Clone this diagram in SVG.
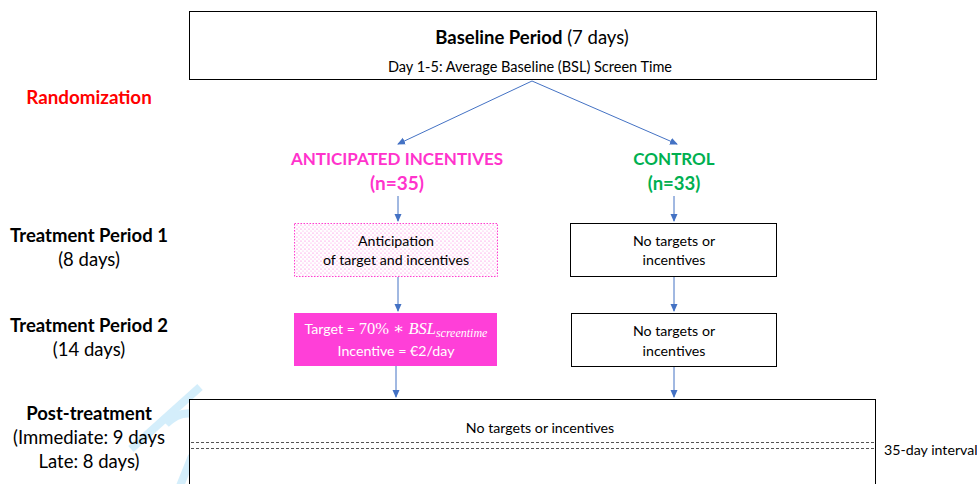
<svg xmlns="http://www.w3.org/2000/svg" width="977" height="484" viewBox="0 0 977 484">
<defs>
<style>
text{font-family:Lato,"Open Sans","Liberation Sans",sans-serif;fill:#000}
.b{font-weight:bold}
.box{fill:#fff;stroke:#000;stroke-width:1}
.conn{stroke:#4472C4;stroke-width:1;fill:none;marker-end:url(#ah)}
.mg{fill:#FF33CC}
.gr{fill:#00B050}
.math{font-family:"Liberation Serif","DejaVu Serif",serif;fill:#fff}
.side{font-size:18.5px}
.inner{font-size:14.2px}
</style>
<marker id="ah" markerWidth="8" markerHeight="8" refX="7" refY="4" orient="auto" markerUnits="userSpaceOnUse">
<path d="M0,0.5 L8,4 L0,7.5 Z" fill="#4472C4"/>
</marker>
<pattern id="dots" width="4" height="4" patternUnits="userSpaceOnUse">
<rect width="4" height="4" fill="#fff"/>
<circle cx="1" cy="1" r="0.6" fill="#FF66DD"/>
<circle cx="3" cy="3" r="0.6" fill="#FF99E6"/>
</pattern>
</defs>
<rect width="977" height="484" fill="#fff"/>

<g id="watermark" fill="none" stroke="#D4EEFB" stroke-width="8" stroke-linecap="butt">
<path d="M200,387 L131,449"/>
<path d="M166,424 Q182,408 200,416"/>
<path d="M180,486 L192,456"/>
</g>

<g id="labels">
<text x="89" y="104" text-anchor="middle" class="b" font-size="18.8" style="fill:#FF0000">Randomization</text>
<text x="89" y="242" text-anchor="middle" class="b side">Treatment Period 1</text>
<text x="89" y="266" text-anchor="middle" class="side">(8 days)</text>
<text x="89" y="332" text-anchor="middle" class="b side">Treatment Period 2</text>
<text x="89" y="356" text-anchor="middle" class="side">(14 days)</text>
<text x="89" y="420" text-anchor="middle" class="b side">Post-treatment</text>
<text x="89" y="444" text-anchor="middle" class="side">(Immediate: 9 days</text>
<text x="89" y="468" text-anchor="middle" class="side">Late: 8 days)</text>
</g>

<g id="baseline">
<rect class="box" x="189.5" y="11.5" width="687" height="68"/>
<text x="532" y="44" text-anchor="middle" font-size="18.5"><tspan class="b">Baseline Period</tspan> (7 days)</text>
<text x="530" y="72" text-anchor="middle" font-size="14.5">Day 1-5: Average Baseline (BSL) Screen Time</text>
</g>

<g id="anticipated-header">
<text x="397" y="165" text-anchor="middle" class="b mg" font-size="17">ANTICIPATED INCENTIVES</text>
<text x="397" y="190" text-anchor="middle" class="b mg" font-size="19">(n=35)</text>
</g>

<g id="control-header">
<text x="674" y="165" text-anchor="middle" class="b gr" font-size="17">CONTROL</text>
<text x="674" y="190" text-anchor="middle" class="b gr" font-size="18.5">(n=33)</text>
</g>

<g id="anticipation">
<rect x="294.5" y="223.5" width="203" height="53" fill="url(#dots)" stroke="#FF40D0" stroke-width="1" stroke-dasharray="1.5,1.5"/>
<text x="396" y="246" text-anchor="middle" class="inner">Anticipation</text>
<text x="396" y="265" text-anchor="middle" class="inner">of target and incentives</text>
</g>

<g id="control1">
<rect class="box" x="570.5" y="223.5" width="206" height="53"/>
<text x="674" y="246" text-anchor="middle" class="inner">No targets or</text>
<text x="674" y="265" text-anchor="middle" class="inner">incentives</text>
</g>

<g id="target">
<rect x="294" y="313" width="203" height="53" fill="#FF3FD8"/>
<text x="396" y="334" text-anchor="middle" class="inner" style="fill:#fff">Target = <tspan class="math" font-size="16.5">70% ∗ </tspan><tspan class="math" font-style="italic" font-size="16.5">BSL</tspan><tspan class="math" font-style="italic" font-size="12" dy="3">screentime</tspan></text>
<text x="396" y="356" text-anchor="middle" class="inner" style="fill:#fff">Incentive = €2/day</text>
</g>

<g id="control2">
<rect class="box" x="571.5" y="313.5" width="205" height="53"/>
<text x="674" y="336" text-anchor="middle" class="inner">No targets or</text>
<text x="674" y="356" text-anchor="middle" class="inner">incentives</text>
</g>

<g id="post">
<rect class="box" x="189.5" y="399.5" width="686" height="100"/>
<text x="540" y="433" text-anchor="middle" class="inner">No targets or incentives</text>
<line x1="191" y1="442.5" x2="874" y2="442.5" stroke="#555" stroke-width="1" stroke-dasharray="3,2"/>
<line x1="191" y1="448.5" x2="874" y2="448.5" stroke="#555" stroke-width="1" stroke-dasharray="3,2"/>
<text x="884" y="455" class="inner">35-day interval</text>
</g>

<g id="connectors">
<line class="conn" x1="532" y1="81" x2="398" y2="144"/>
<line class="conn" x1="532" y1="81" x2="677" y2="144"/>
<line class="conn" x1="398" y1="196" x2="398" y2="221"/>
<line class="conn" x1="674" y1="196" x2="674" y2="221"/>
<line class="conn" x1="398" y1="277" x2="398" y2="311"/>
<line class="conn" x1="674" y1="277" x2="674" y2="311"/>
<line class="conn" x1="396" y1="366" x2="396" y2="397"/>
<line class="conn" x1="674" y1="367" x2="674" y2="397"/>
</g>
</svg>
